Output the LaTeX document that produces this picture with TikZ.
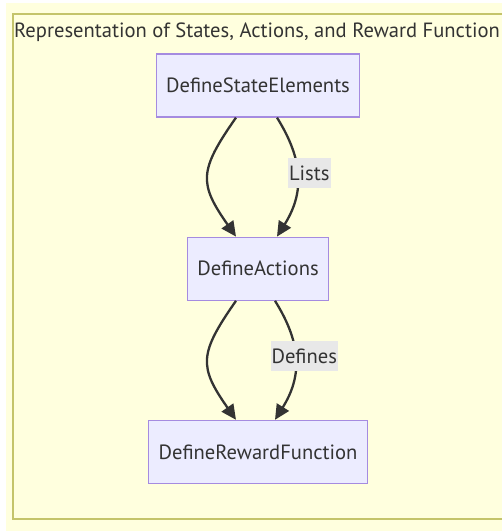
\documentclass[tikz,border=0pt]{standalone}
\usepackage{fontspec}
\setmainfont{PT Sans}
\usetikzlibrary{positioning, arrows.meta}
\definecolor{clusterfill}{HTML}{FFFFDE}
\definecolor{clusterline}{HTML}{C4C46A}
\definecolor{nodefill}{HTML}{ECECFF}
\definecolor{nodeline}{HTML}{A58BE0}
\definecolor{edgegray}{HTML}{333333}
\definecolor{labelfill}{HTML}{E8E8E8}
\tikzset{arr/.style={-{Triangle[length=15pt, width=14pt]}, line width=2.3pt, draw=edgegray}}

\begin{document}
\begin{tikzpicture}[
      x=1pt, y=-1pt,
      every node/.style={font=\fontsize{20.6}{24}\selectfont, text=edgegray},
      step box/.style={draw=nodeline, fill=nodefill, line width=1.2pt, minimum height=63pt, inner xsep=10pt},
      edge label/.style={fill=labelfill, inner xsep=1pt, inner ysep=0pt, minimum height=30pt},
  ]
      \useasboundingbox (0,0) rectangle (502,531);
      \clip (0,0) rectangle (502,531);

      % Background and cluster frame
      \fill[clusterfill] (6,3) rectangle (502,531);
      \draw[clusterline, line width=1.6pt] (13,14) rectangle (530,519);
      \node[anchor=west, inner sep=0pt] (title) at (14,32) {Representation of States, Actions, and Reward Function};

      % Steps, top to bottom
      \node[step box] (states) at (258,85.5) {DefineStateElements};
      \node[step box, below=119pt of states] (actions) {DefineActions};
      \node[step box, below=119pt of actions] (reward) {DefineRewardFunction};

      % States -> Actions
      \draw[arr] ([xshift=-22pt]states.south) to[out=-125, in=125, looseness=1.4] ([xshift=-22pt]actions.north);
      \draw[arr] ([xshift=19pt]states.south) to[out=-58, in=58, looseness=1.1]
            node[edge label, pos=0.5, xshift=12pt, yshift=4pt] (lists) {Lists} ([xshift=19pt]actions.north);

      % Actions -> Reward
      \draw[arr] ([xshift=-22pt]actions.south) to[out=-125, in=125, looseness=1.4] ([xshift=-22pt]reward.north);
      \draw[arr] ([xshift=17pt]actions.south) to[out=-58, in=58, looseness=1.1]
            node[edge label, pos=0.5, xshift=9pt, yshift=4pt] (defines) {Defines} ([xshift=17pt]reward.north);

\end{tikzpicture}
\end{document}
